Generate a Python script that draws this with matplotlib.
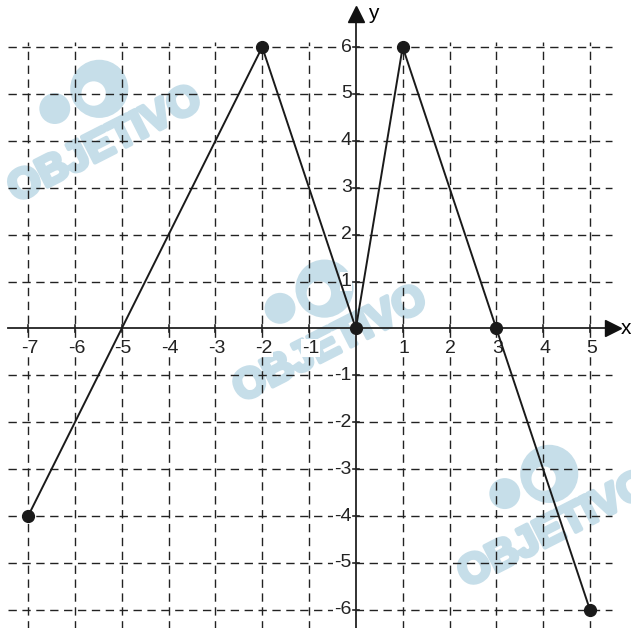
import matplotlib.pyplot as plt
import matplotlib.patheffects as pe
from matplotlib.patches import Circle

plt.rcParams['font.family'] = ['Liberation Sans', 'DejaVu Sans']

# --- Data ---
px = [-7, -2, 0, 1, 3, 5]
py = [-4, 6, 0, 6, 0, -6]
xticks = list(range(-7, 6))
yticks = [t for t in range(-6, 7)]

wm_color = '#c6dee9'

fig = plt.figure(figsize=(6.31, 6.28), dpi=100)
ax = fig.add_axes([0, 0, 1, 1])
ax.set_xlim(-7.60, 5.876)
ax.set_ylim(-6.386, 7.004)
ax.axis('off')

# watermarks (under the grid)
for tx, ty in [(-5.36, 3.91), (-0.55, -0.35), (4.25, -4.30)]:
    ax.text(tx, ty, 'OBJETIVO', color=wm_color, fontsize=30, fontweight='bold',
            rotation=27, ha='center', va='center', zorder=0, clip_on=True,
            path_effects=[pe.withStroke(linewidth=3, foreground=wm_color)])
    bx, by = tx - 0.12, ty + 1.2
    ax.add_patch(Circle((bx, by), 0.62, color=wm_color, zorder=0, lw=0))
    ax.add_patch(Circle((bx - 0.12, by - 0.1), 0.26, color='white', zorder=0, lw=0))
    ax.add_patch(Circle((bx - 0.95, by - 0.42), 0.33, color=wm_color, zorder=0, lw=0))

# dashed grid
dash = dict(color='#222222', lw=1.0, ls=(0, (6, 4)), zorder=1)
for x in xticks:
    if x != 0:
        ax.plot([x, x], [-6.4, 6.1], **dash)
for y in yticks:
    if y != 0:
        ax.plot([-7.43, 5.47], [y, y], **dash)

# axes with arrows
ax.plot([-7.43, 5.45], [0, 0], color='#222222', lw=1.3, zorder=2)
ax.plot([0, 0], [-6.4, 6.65], color='#222222', lw=1.3, zorder=2)
ax.plot(5.5, 0, marker='>', color='#111111', markersize=11, zorder=3)
ax.plot(0, 6.7, marker='^', color='#111111', markersize=11, zorder=3)
ax.text(5.78, 0, 'x', fontsize=15, ha='center', va='center')
ax.text(0.38, 6.72, 'y', fontsize=15, ha='center', va='center')

# ticks and labels
lbl_box = dict(facecolor='white', edgecolor='none', pad=0.5)
for x in xticks:
    if x != 0:
        ax.plot([x, x], [-0.07, 0.07], color='#222222', lw=1.2, zorder=2)
        ax.text(x + 0.03, -0.42, str(x), fontsize=14, ha='center', va='center',
                color='#222222', bbox=lbl_box, zorder=3)
for y in yticks:
    if y != 0:
        ax.plot([-0.07, 0.07], [y, y], color='#222222', lw=1.2, zorder=2)
        ax.text(-0.09, y, str(y), fontsize=14, ha='right', va='center',
                color='#222222', bbox=lbl_box, zorder=3)

# function graph
ax.plot(px, py, color='#1a1a1a', lw=1.4, zorder=4)
ax.plot(px, py, 'o', color='#1a1a1a', markersize=8.5, zorder=5)

fig.savefig('out.png', dpi=100)
